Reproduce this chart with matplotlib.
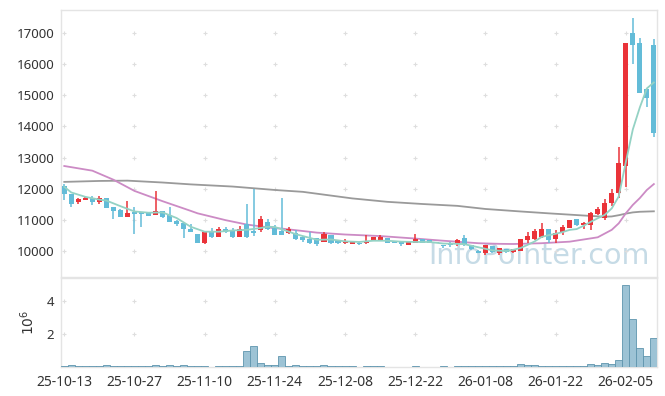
import matplotlib
matplotlib.use('Agg')
import matplotlib.pyplot as plt
import numpy as np

plt.rcParams['font.family'] = ['Noto Sans', 'DejaVu Sans']

# daily candles, trading-day index 0..84 (25-10-13 .. 26-02-11)
opens = [12090, 11820, 11580, 11650, 11710, 11560, 11690, 11410, 11330, 11090,
         11240, 11260, 11220, 11160, 11280, 11160, 10970, 10890, 10720, 10540,
         10250, 10620, 10440, 10700, 10650, 10440, 10860, 10650, 10670, 10940,
         10730, 10650, 10590, 10570, 10460, 10390, 10410, 10300, 10500, 10350,
         10250, 10230, 10270, 10250, 10350, 10330, 10410, 10300, 10300, 10180,
         10270, 10390, 10350, 10280, 10190, 10230, 10230, 10410, 10190, 10010,
         9930, 10150, 9950, 10060, 9980, 10000, 10350, 10390, 10440, 10700,
         10390, 10600, 10750, 11020, 10830, 10840, 11190, 11070, 11530, 11870,
         12740, 16990, 16670, 15190, 16620]
highs = [12140, 11840, 11710, 11720, 11780, 11770, 11700, 11420, 11340, 11600,
         11420, 11260, 11230, 11930, 11290, 11400, 10980, 10900, 10880, 10540,
         10610, 10730, 10780, 10780, 10730, 10800, 11510, 11980, 11120, 11020,
         10830, 11690, 10760, 10670, 10470, 10600, 10410, 10620, 10510, 10360,
         10400, 10320, 10280, 10510, 10460, 10510, 10420, 10310, 10310, 10310,
         10550, 10400, 10360, 10290, 10200, 10300, 10380, 10510, 10200, 10020,
         10200, 10160, 10100, 10070, 10070, 10380, 10620, 10700, 10910, 10700,
         10670, 10840, 11000, 11030, 10940, 11260, 11400, 11660, 11990, 13350,
         16670, 17470, 16830, 15200, 16800]
lows = [11640, 11420, 11500, 11630, 11480, 11500, 11370, 11030, 11080, 11090,
        10540, 10780, 11120, 11150, 11070, 10940, 10810, 10410, 10610, 10250,
        10240, 10430, 10440, 10570, 10430, 10440, 10410, 10480, 10620, 10690,
        10500, 10510, 10550, 10350, 10300, 10240, 10160, 10290, 10240, 10230,
        10240, 10210, 10200, 10230, 10340, 10320, 10260, 10260, 10160, 10180,
        10250, 10250, 10260, 10270, 10090, 10120, 10160, 10160, 10040, 9920,
        9870, 9950, 9870, 9950, 9950, 9990, 10270, 10350, 10430, 10270,
        10250, 10510, 10740, 10810, 10700, 10670, 11160, 11000, 11450, 11690,
        12070, 16000, 15080, 14610, 13650]
closes = [11820, 11500, 11670, 11700, 11560, 11690, 11390, 11290, 11090, 11220,
          11200, 11200, 11130, 11280, 11090, 10940, 10880, 10700, 10620, 10260,
          10600, 10440, 10700, 10600, 10440, 10700, 10440, 10590, 11020, 10700,
          10510, 10510, 10700, 10400, 10350, 10270, 10230, 10540, 10270, 10250,
          10320, 10300, 10230, 10320, 10440, 10440, 10270, 10270, 10230, 10300,
          10390, 10270, 10270, 10270, 10160, 10190, 10350, 10230, 10060, 9930,
          10190, 9980, 10090, 9980, 10060, 10370, 10480, 10640, 10700, 10350,
          10590, 10760, 10990, 10830, 10890, 11210, 11340, 11530, 11870, 12820,
          16670, 16620, 15080, 14920, 13780]
# volume in millions of shares
volumes = [0.04, 0.09, 0.04, 0.04, 0.04, 0.04, 0.09, 0.04, 0.04, 0.04,
           0.04, 0.04, 0.04, 0.09, 0.04, 0.09, 0.04, 0.09, 0.04, 0.04,
           0.04, 0.0, 0.04, 0.04, 0.04, 0.04, 0.97, 1.28, 0.21, 0.10,
           0.10, 0.66, 0.04, 0.10, 0.04, 0.04, 0.04, 0.10, 0.04, 0.04,
           0.04, 0.04, 0.0, 0.04, 0.04, 0.04, 0.0, 0.0, 0.0, 0.0,
           0.04, 0.0, 0.0, 0.0, 0.04, 0.0, 0.04, 0.08, 0.04, 0.04,
           0.04, 0.04, 0.04, 0.04, 0.04, 0.17, 0.10, 0.10, 0.04, 0.04,
           0.08, 0.04, 0.08, 0.04, 0.04, 0.17, 0.10, 0.23, 0.17, 0.41,
           5.00, 2.90, 1.14, 0.66, 1.75]

# moving averages (index, value)
ma5_idx = [0, 1, 3, 5, 6, 8, 10, 12, 14, 15, 16, 18, 20, 22, 24, 26, 28, 29, 30, 31,
           33, 35, 36, 38, 40, 42, 44, 46, 48, 50, 52, 54, 56, 57, 59, 61, 63, 64, 65,
           66, 67, 68, 69, 70, 71, 72, 73, 74, 75, 76, 77, 78, 79, 80, 81, 82, 83, 84]
ma5_val = [12060, 11880, 11740, 11650, 11620, 11440, 11270, 11230, 11240, 11150, 11060,
           10780, 10620, 10620, 10660, 10680, 10740, 10780, 10770, 10700, 10540, 10420,
           10360, 10370, 10310, 10290, 10330, 10330, 10300, 10290, 10290, 10240, 10230,
           10220, 10120, 10020, 10000, 10040, 10096, 10196, 10306, 10450, 10508, 10552,
           10608, 10678, 10704, 10812, 10936, 11052, 11160, 11368, 11754, 12846, 13902,
           14612, 15222, 15414]
ma20_idx = [0, 4, 7, 10, 14, 18, 19, 23, 26, 30, 31, 36, 40, 45, 50, 54, 59, 62, 64,
            68, 72, 76, 78, 79, 80, 81, 82, 83, 84]
ma20_val = [12730, 12580, 12290, 11930, 11600, 11290, 11210, 10990, 10850, 10730, 10720,
            10590, 10530, 10480, 10400, 10330, 10250, 10230, 10225, 10250, 10300, 10440,
            10680, 10890, 11210, 11480, 11700, 11960, 12150]
ma60_idx = [0, 5, 9, 14, 18, 24, 30, 34, 41, 46, 51, 56, 60, 65, 69, 74, 77, 78, 79,
            80, 81, 82, 84]
ma60_val = [12220, 12250, 12260, 12200, 12140, 12070, 11960, 11900, 11690, 11580, 11510,
            11450, 11350, 11270, 11210, 11140, 11100, 11110, 11150, 11200, 11240, 11260,
            11275]

tick_pos = [0, 10, 20, 30, 40, 50, 60, 70, 80]
tick_labels = ['25-10-13', '25-10-27', '25-11-10', '25-11-24', '25-12-08',
               '25-12-22', '26-01-08', '26-01-22', '26-02-05']
price_ticks = [10000, 11000, 12000, 13000, 14000, 15000, 16000, 17000]
vol_ticks = [2, 4]

up_color = '#ea3339'
down_color = '#63bcd8'
frame_color = '#e4e4e4'
grid_color = '#dedede'
text_color = '#333333'

fig = plt.figure(figsize=(6.65, 3.96), dpi=100)
ax = fig.add_axes([0.0917, 0.3005, 0.8963, 0.6742])
axv = fig.add_axes([0.0917, 0.0735, 0.8963, 0.2245], sharex=ax)

x = np.arange(len(closes))
o = np.array(opens)
c = np.array(closes)
colors = [up_color if cc >= oo else down_color for oo, cc in zip(o, c)]

ax.vlines(x, lows, highs, colors=colors, linewidth=1.1, zorder=3)
body_low = np.minimum(o, c)
body_h = np.maximum(np.abs(c - o), 18)
ax.bar(x, body_h, bottom=body_low, width=0.72, color=colors, linewidth=0, zorder=4)

ax.plot(ma60_idx, ma60_val, color='#9a9a9a', linewidth=1.3, zorder=2)
ax.plot(ma20_idx, ma20_val, color='#cc8bc5', linewidth=1.3, zorder=2)
ax.plot(ma5_idx, ma5_val, color='#94d2c4', linewidth=1.3, zorder=5)

# cross marks at grid intersections
gx, gy = np.meshgrid(tick_pos, price_ticks)
ax.plot(gx.ravel(), gy.ravel(), linestyle='none', marker='+', markersize=3.5,
        color=grid_color, markeredgewidth=0.8, zorder=1)
gx, gy = np.meshgrid(tick_pos, vol_ticks)
axv.plot(gx.ravel(), gy.ravel(), linestyle='none', marker='+', markersize=3.5,
         color=grid_color, markeredgewidth=0.8, zorder=1)

ax.text(0.802, 0.08, 'InfoPointer.com', transform=ax.transAxes, ha='center',
        va='center', fontsize=20.5, color='#c6dbe6', family='DejaVu Sans', zorder=0)

axv.bar(x, volumes, width=1.0, color='#9dc3d5', edgecolor='#5f95ae', linewidth=0.6,
        zorder=3)

ax.set_xlim(-0.47, 84.45)
ax.set_ylim(9165, 17740)
axv.set_ylim(0, 5.42)

ax.set_yticks(price_ticks)
ax.set_yticklabels([str(p) for p in price_ticks])
axv.set_yticks(vol_ticks)
axv.set_yticklabels(['2', '4'])
axv.set_xticks(tick_pos)
axv.set_xticklabels(tick_labels)
axv.set_ylabel(r'$10^6$', fontsize=10, color=text_color, labelpad=6)

for a in (ax, axv):
    for s in a.spines.values():
        s.set_color(frame_color)
        s.set_linewidth(1.0)
    a.tick_params(length=0, labelsize=9.5, colors=text_color, pad=5)
ax.tick_params(axis='x', labelbottom=False)
axv.tick_params(axis='x', pad=6, labelsize=10)

plt.savefig('out.png', dpi=100)
